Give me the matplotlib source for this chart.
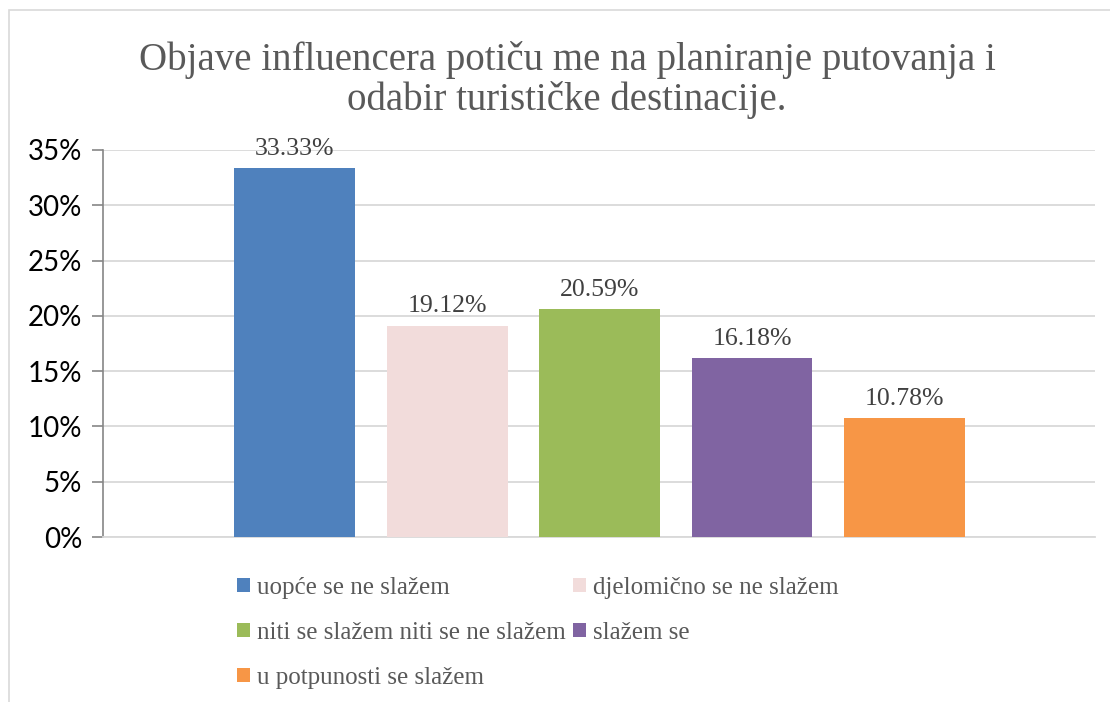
import matplotlib.pyplot as plt
from matplotlib.patches import Rectangle
from matplotlib.ticker import FuncFormatter

title_lines = ["Objave influencera potiču me na planiranje putovanja i",
               "odabir turističke destinacije."]
labels = ["uopće se ne slažem", "djelomično se ne slažem",
          "niti se slažem niti se ne slažem", "slažem se",
          "u potpunosti se slažem"]
values = [33.33, 19.12, 20.59, 16.18, 10.78]
colors = ["#4f81bd", "#f2dcdb", "#9bbb59", "#8064a2", "#f79646"]
yticks = [0, 5, 10, 15, 20, 25, 30, 35]

serif = "Liberation Serif"
sans = "Lato"

fig = plt.figure(figsize=(11.1, 7.02), dpi=100)
ax = fig.add_axes([103 / 1110, 1 - 537 / 702, (1095 - 103) / 1110, (537 - 150) / 702])

# outer chart border
fig.patches.append(Rectangle((9 / 1110, -0.05), 1.05, 1 - 10 / 702 + 0.05,
                             transform=fig.transFigure, fill=False,
                             edgecolor="#d9d9d9", lw=1.2))

bars = []
for i, (v, c) in enumerate(zip(values, colors)):
    b = ax.bar(i, v, width=0.793, color=c, label=labels[i], zorder=3)
    bars.append(b)
    ax.text(i, v + 0.75, f"{v:.2f}%", ha="center", va="bottom",
            fontsize=18.5, family=serif, color="#404040")

ax.set_xlim(-1.256, 5.249)
ax.set_ylim(0, 35)
ax.set_yticks(yticks)
ax.yaxis.set_major_formatter(FuncFormatter(lambda v, p: f"{v:.0f}%"))
ax.set_xticks([])
ax.grid(axis="y", color="#d9d9d9", lw=1.3, zorder=0)
for s in ["top", "right"]:
    ax.spines[s].set_visible(False)
ax.spines["bottom"].set_color("#d9d9d9")
ax.spines["bottom"].set_linewidth(1.3)
ax.spines["left"].set_color("#868686")
ax.spines["left"].set_linewidth(1.2)
ax.tick_params(axis="y", length=8, width=1.2, color="#868686", pad=7,
               labelsize=20, labelcolor="#000000")
for t in ax.get_yticklabels():
    t.set_family(sans)

fig.text(567 / 1110, 1 - 70 / 702, title_lines[0], ha="center", va="baseline",
         fontsize=28, family=serif, color="#595959")
fig.text(567 / 1110, 1 - 110 / 702, title_lines[1], ha="center", va="baseline",
         fontsize=28, family=serif, color="#595959")

# legend filled row-wise like the original
order = [0, 2, 4, 1, 3]
handles = [bars[i] for i in order]
leg = fig.legend(handles, [labels[i] for i in order], ncol=2,
                 loc="upper left", bbox_to_anchor=(237 / 1110, 1 - 577 / 702),
                 frameon=False, prop={"family": serif, "size": 18},
                 handlelength=0.5, handleheight=0.5, handletextpad=0.3,
                 columnspacing=0.3, labelspacing=0.92, borderaxespad=0,
                 borderpad=0)
for t in leg.get_texts():
    t.set_color("#595959")

fig.savefig("out.png", dpi=100)
